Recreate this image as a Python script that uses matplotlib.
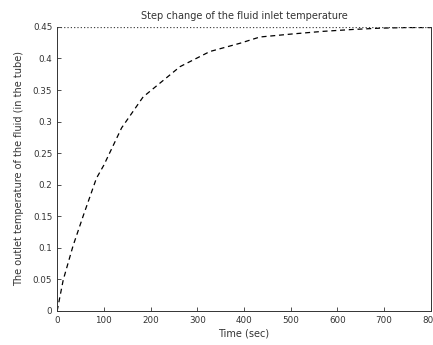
import matplotlib
matplotlib.use('Agg')
from matplotlib import pyplot as plt
import numpy as np

# response of the outlet temperature
t = [0, 13, 34, 56, 84, 100, 138, 184, 263, 327, 391, 434, 506, 570, 634, 691, 750, 800]
temp = [0, 0.049, 0.103, 0.151, 0.21, 0.231, 0.29, 0.339, 0.387, 0.411, 0.424, 0.434,
        0.439, 0.443, 0.446, 0.448, 0.449, 0.449]
final_value = 0.45

xticks = np.arange(0, 801, 100)
yticks = [0, 0.05, 0.1, 0.15, 0.2, 0.25, 0.3, 0.35, 0.4, 0.45]
ylabels = ['0', '0.05', '0.1', '0.15', '0.2', '0.25', '0.3', '0.35', '0.4', '0.45']

fig = plt.figure(figsize=(4.33, 3.45), dpi=100)
ax = fig.add_axes([0.132, 0.099, 0.863, 0.823])

ax.plot(t, temp, linestyle='--', color='black', linewidth=0.9, dashes=(4, 3))
ax.axhline(final_value, linestyle=':', color='#444444', linewidth=0.9)

ax.set_xlim(0, 800)
ax.set_ylim(0, 0.45)
ax.set_xticks(xticks)
ax.set_yticks(yticks)
ax.set_yticklabels(ylabels)
ax.tick_params(direction='in', labelsize=6.3, colors='#333333', length=3, width=0.6)
ax.spines['top'].set_visible(False)
for s in ['left', 'right', 'bottom']:
    ax.spines[s].set_linewidth(0.7)
    ax.spines[s].set_color('#333333')

ax.set_title('Step change of the fluid inlet temperature', fontsize=7, color='#333333', pad=6)
ax.set_xlabel('Time (sec)', fontsize=7, color='#333333', labelpad=3)
ax.set_ylabel('The outlet temperature of the fluid (in the tube)', fontsize=7,
              color='#333333', labelpad=6)

# the last x tick label runs off the right edge, as in the original
plt.savefig('out.png', dpi=100)
